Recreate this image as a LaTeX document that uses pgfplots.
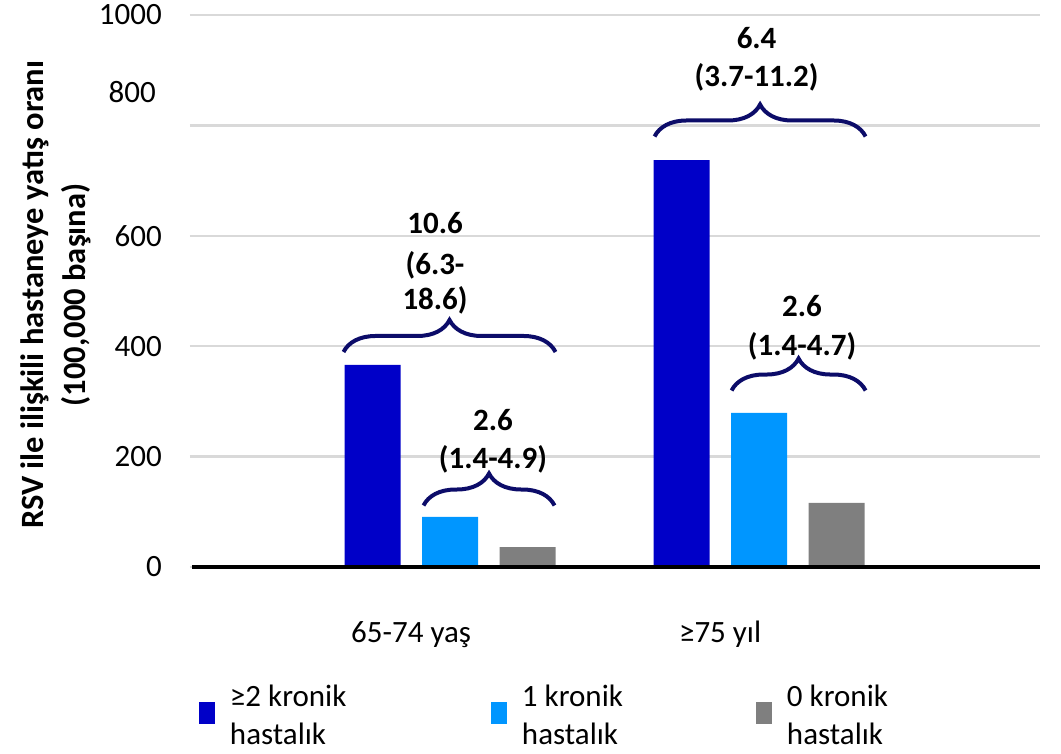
\documentclass[border=0pt]{standalone}
\usepackage{fontspec}
\setmainfont{Carlito}
\usepackage{pgfplots}
\pgfplotsset{compat=1.18}
\usetikzlibrary{decorations.pathreplacing}

\definecolor{twoplus}{HTML}{0000C8}
\definecolor{onecond}{HTML}{0096FF}
\definecolor{nocond}{HTML}{7F7F7F}
\definecolor{bracecol}{RGB}{12,12,105}
\definecolor{gridcol}{HTML}{D9D9D9}

\tikzset{
  ratiobrace/.style={draw=bracecol, line width=4pt, decorate,
    decoration={brace, amplitude=32pt}},
  ratiotext/.style={font=\bfseries\fontsize{31}{38}\selectfont, anchor=base, inner sep=0pt},
}

\begin{document}
\begin{tikzpicture}
\path[use as bounding box] (-190pt,-187pt) rectangle (871pt,567pt);
\begin{axis}[
  scale only axis,
  width=850pt, height=552pt,
  xmin=-0.8414, xmax=1.909,
  ymin=0, ymax=1000,
  clip=false,
  ybar,
  axis x line*=bottom, axis y line*=left,
  x axis line style={draw=none},
  y axis line style={draw=none},
  major tick length=0pt,
  tick style={draw=none},
  ymajorgrids,
  grid style={draw=gridcol, line width=2.5pt},
  ytick={0,200,400,600,800,1000},
  yticklabels={0,200,400,600,{},1000},
  extra y ticks={860},
  extra y tick labels={800},
  extra y tick style={grid=none, yticklabel style={xshift=-6pt}},
  xtick={-0.126,0.874},
  xticklabels={65-74 yaş, ≥75 yıl},
  /pgf/number format/assume math mode=true,
  tick label style={font=\fontsize{31}{37}\selectfont},
  yticklabel style={inner sep=0pt, anchor=east, xshift=-28pt},
  xticklabel style={inner sep=0pt, anchor=base, yshift=-76pt},
  ylabel={RSV ile ilişkili hastaneye yatış oranı\\(100,000 başına)},
  ylabel style={at={([xshift=-134pt]axis description cs:0,0.493)}, anchor=center,
    align=center, font=\bfseries\fontsize{32.5}{42}\selectfont},
  legend image code/.code={\fill[#1,draw=none] (0pt,-21pt) rectangle (16pt,1pt);},
  legend columns=3,
  legend style={draw=none, fill=none, inner sep=0pt, outer sep=0pt,
    at={([xshift=9pt,yshift=-113pt]axis description cs:0,0)}, anchor=north west,
    font=\fontsize{31}{38}\selectfont,
    nodes={inner sep=0pt},
    /tikz/every odd column/.append style={column sep=15pt}},
]
% age-group bars: 0 = 65-74, 1 = 75+
\addplot[fill=twoplus, draw=none, bar width=56pt, bar shift=-77.5pt]
  coordinates {(0,366) (1,737)};
\addplot[fill=onecond, draw=none, bar width=56pt, bar shift=0pt]
  coordinates {(0,91) (1,279)};
\addplot[fill=nocond, draw=none, bar width=56pt, bar shift=77.5pt]
  coordinates {(0,36) (1,116)};
\addlegendentry{\makebox[261pt][l]{\begin{tabular}{@{}l@{}}≥2 kronik\\hastalık\end{tabular}}}
\addlegendentry{\makebox[234pt][l]{\begin{tabular}{@{}l@{}}1 kronik\\hastalık\end{tabular}}}
\addlegendentry{\begin{tabular}{@{}l@{}}0 kronik\\hastalık\end{tabular}}

% baseline
\draw[black, line width=4.5pt] ([xshift=2pt]rel axis cs:0,0) -- (rel axis cs:1,0);

% rate-ratio braces
\draw[ratiobrace] (axis cs:-0.3447,389.5) -- (axis cs:0.3414,389.5);
\draw[ratiobrace] (axis cs:-0.0858,111.4) -- (axis cs:0.3382,111.4);
\draw[ratiobrace] (axis cs:0.6618,779.9) -- (axis cs:1.3447,779.9);
\draw[ratiobrace] (axis cs:0.9110,319.7) -- (axis cs:1.3447,319.7);

% rate ratios with 95% CI
\node[ratiotext] at (axis cs:-0.0485,605) {10.6};
\node[ratiotext] at (axis cs:-0.0485,529) {(6.3-};
\node[ratiotext] at (axis cs:-0.0485,465.6) {18.6)};
\node[ratiotext] at (axis cs:0.139,248) {2.6};
\node[ratiotext] at (axis cs:0.139,179) {(1.4-4.9)};
\node[ratiotext] at (axis cs:0.992,940) {6.4};
\node[ratiotext] at (axis cs:0.992,871) {(3.7-11.2)};
\node[ratiotext] at (axis cs:1.139,454.7) {2.6};
\node[ratiotext] at (axis cs:1.139,384) {(1.4-4.7)};
\end{axis}
\end{tikzpicture}
\end{document}
